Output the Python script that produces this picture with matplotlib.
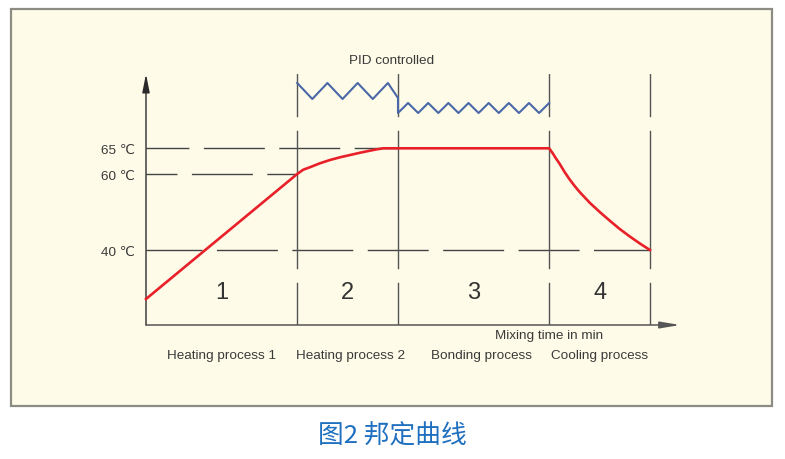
import matplotlib.pyplot as plt
from matplotlib.patches import Rectangle

plt.rcParams['font.family'] = ['Liberation Sans', 'DejaVu Sans']
plt.rcParams['lines.scale_dashes'] = False

# phase boundaries on the time axis (schematic minutes)
bounds = [3, 5, 8, 10]
phase_nums = ['1', '2', '3', '4']
phase_names = ['Heating process 1', 'Heating process 2', 'Bonding process', 'Cooling process']
name_pos = [1.5, 4.05, 6.65, 9.0]

# temperature levels and their height on the schematic axis
temps = [40, 60, 65]
temp_h = [75, 151, 177]
temp_end = [10, 3, 5]          # how far each dashed level line runs
dash_off = [3.6, 21.6, 13.0]   # dash phase (pt) of each level line

# red temperature curve
curve_t = [0, 3.0, 3.12, 3.25, 3.45, 3.65, 3.85, 4.05, 4.25, 4.44, 4.58, 4.71,
           8.0, 8.08, 8.12, 8.21, 8.31, 8.41, 8.51, 8.61, 8.81, 9.01, 9.21, 9.40,
           9.60, 9.80, 10.0]
curve_h = [26, 151, 155.3, 157.7, 161.7, 165, 167.7, 170, 172.3, 174.3, 175.7, 176.7,
           176.7, 171, 167.7, 161, 152.7, 145.3, 138.7, 132.7, 122, 112.7, 104, 96,
           88.5, 81.5, 75]

# PID zigzag
pid_t = [3.0, 3.3, 3.6, 3.9, 4.2, 4.5, 4.8, 5.0, 5.0, 5.2, 5.4, 5.6, 5.8, 6.0, 6.2,
         6.4, 6.6, 6.8, 7.0, 7.2, 7.4, 7.6, 7.8, 8.0]
pid_h = [242, 226, 242, 226, 242, 226, 242, 227, 212, 222, 212, 222, 212, 222, 212,
         222, 212, 222, 212, 222, 212, 222, 212, 222]

# vertical marker segments (height ranges)
vsegs = [(209, 251), (57, 194), (0, 42)]

fig = plt.figure(figsize=(7.85, 4.6), dpi=100)
fig.patches.append(Rectangle((11 / 785, 53 / 460), 761 / 785, 397 / 460,
                             transform=fig.transFigure, facecolor='#fefbe8',
                             edgecolor='#8c8c84', lw=1.6, zorder=-1))

ax = fig.add_axes([146 / 785, 134 / 460, 534.2 / 785, 251 / 460])
ax.set_xlim(0, 10.6)
ax.set_ylim(0, 251)
ax.patch.set_alpha(0)
for s in ax.spines.values():
    s.set_visible(False)
ax.set_xticks([])
ax.set_yticks(temp_h, [f'{t} ℃' for t in temps])
ax.tick_params(axis='y', length=0, pad=8, labelsize=9.7, labelcolor='#3a3a3a')

# axes with arrows
ax.annotate('', xy=(0, 251), xytext=(0, 0), annotation_clip=False,
            arrowprops=dict(arrowstyle='-|>,head_length=1.1,head_width=0.22',
                            color='#2a2a2a', lw=1, mutation_scale=10, shrinkA=0, shrinkB=0))
ax.annotate('', xy=(10.6, 0), xytext=(0, 0), annotation_clip=False,
            arrowprops=dict(arrowstyle='-|>,head_length=1.2,head_width=0.2',
                            color='#555555', lw=1.1, mutation_scale=10, shrinkA=0, shrinkB=0))

for h, end, off in zip(temp_h, temp_end, dash_off):
    ax.plot([0, end], [h, h], color='#444444', lw=1,
            linestyle=(off, (43.9, 10.4)), zorder=2)

for b in bounds:
    for lo, hi in vsegs:
        ax.plot([b, b], [lo, hi], color='#555555', lw=1, zorder=2)

ax.plot(curve_t, curve_h, color='#e8202a', lw=1.9, zorder=3, clip_on=False,
        solid_joinstyle='round')
ax.plot(pid_t, pid_h, color='#4a68a8', lw=1.5, zorder=3, clip_on=False)

starts = [0] + bounds[:-1]
for a, b, num in zip(starts, bounds, phase_nums):
    ax.text((a + b) / 2, 33, num, ha='center', va='center', fontsize=17, color='#333333')
for x, name in zip(name_pos, phase_names):
    ax.text(x, -30, name, ha='center', va='center', fontsize=9.7, color='#3a3a3a',
            clip_on=False)
ax.text(8.0, -10, 'Mixing time in min', ha='center', va='center', fontsize=9.7,
        color='#3a3a3a', clip_on=False)
ax.text(4.88, 265, 'PID controlled', ha='center', va='center', fontsize=9.7,
        color='#3a3a3a', clip_on=False)

fig.text(392 / 785, 1 - 437 / 460, '图2 邦定曲线', ha='center', va='center',
         fontsize=18.5, color='#1f6fbf', family=['Noto Sans CJK SC', 'DejaVu Sans'])

fig.savefig('out.png', dpi=100)
